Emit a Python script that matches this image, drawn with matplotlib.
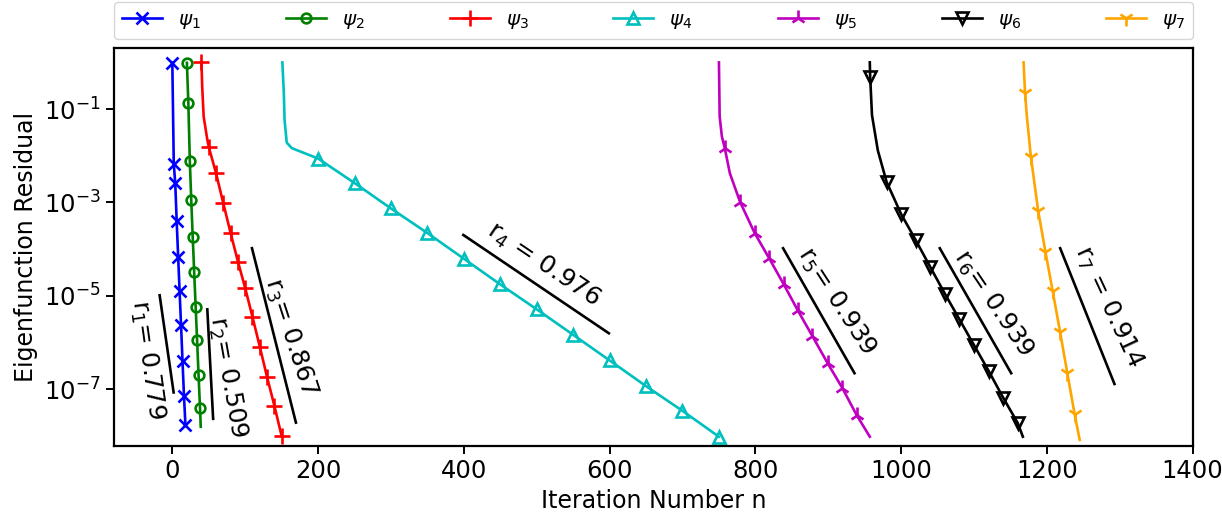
import matplotlib
matplotlib.use("Agg")
import matplotlib.pyplot as plt

# ---------------- data ----------------
labels = [r"$\psi_1$", r"$\psi_2$", r"$\psi_3$", r"$\psi_4$", r"$\psi_5$", r"$\psi_6$", r"$\psi_7$"]
colors = ["blue", "green", "red", "c", "m", "black", "orange"]
markers = ["x", "o", "+", "^", "2", "v", "1"]
msizes = [8, 7, 11, 8.5, 11.5, 8.5, 11.5]

psi1_n = [0, 2, 4, 6, 8, 10, 12, 14, 16, 18]
psi1_r = [0.98, 6.6e-3, 2.6e-3, 3.9e-4, 6.9e-5, 1.23e-5, 2.3e-6, 3.9e-7, 7.1e-8, 1.7e-8]
psi1_mk = [0, 1, 2, 3, 4, 5, 6, 7, 8, 9]

psi2_n = [20, 22, 24, 26, 28, 30, 32, 34, 36, 38, 39]
psi2_r = [0.98, 0.132, 7.8e-3, 1.1e-3, 1.8e-4, 3.2e-5, 5.8e-6, 1.1e-6, 2.0e-7, 3.9e-8, 1.55e-8]
psi2_mk = [0, 1, 2, 3, 4, 5, 6, 7, 8, 9]

psi3_n = [40, 41, 43, 48, 50, 60, 70, 80, 90, 100, 110, 120, 130, 140, 150]
psi3_r = [1.0, 0.30, 0.069, 0.022, 0.0155, 4.2e-3, 9.5e-4, 2.2e-4, 5.4e-5, 1.45e-5,
          3.5e-6, 8.1e-7, 1.8e-7, 4.4e-8, 9.8e-9]
psi3_mk = [0, 4, 5, 6, 7, 8, 9, 10, 11, 12, 13, 14]

psi4_n = [151, 153, 154, 157, 164, 200, 250, 300, 350, 400, 450, 500, 550, 600, 650, 700, 750]
psi4_r = [1.0, 0.22, 0.058, 0.019, 0.0145, 8.7e-3, 2.6e-3, 7.4e-4, 2.2e-4, 6.2e-5, 1.74e-5,
          5.1e-6, 1.45e-6, 4.1e-7, 1.15e-7, 3.4e-8, 9.5e-9]
psi4_mk = [5, 6, 7, 8, 9, 10, 11, 12, 13, 14, 15, 16]

psi5_n = [750, 751, 754, 758, 765, 779, 799, 819, 839, 858, 878, 899, 919, 939, 957]
psi5_r = [1.0, 0.069, 0.026, 0.0145, 4.2e-3, 1.02e-3, 2.2e-4, 6.3e-5, 1.74e-5, 4.9e-6,
          1.38e-6, 3.6e-7, 1.07e-7, 2.75e-8, 9.5e-9]
psi5_mk = [3, 5, 6, 7, 8, 9, 10, 11, 12, 13]

psi6_n = [957, 957.5, 960, 968, 980, 1000, 1020, 1040, 1060, 1080, 1100, 1120, 1140, 1160, 1167]
psi6_r = [1.0, 0.49, 0.074, 0.013, 2.75e-3, 5.6e-4, 1.55e-4, 4.1e-5, 1.1e-5, 3.1e-6,
          8.7e-7, 2.45e-7, 6.5e-8, 1.86e-8, 9.5e-9]
psi6_mk = [1, 4, 5, 6, 7, 8, 9, 10, 11, 12, 13]

psi7_n = [1168, 1170, 1172.5, 1178, 1188, 1198, 1208, 1218, 1228, 1238, 1245]
psi7_r = [1.0, 0.22, 0.069, 9.5e-3, 6.6e-4, 8.7e-5, 1.23e-5, 1.7e-6, 2.2e-7, 2.9e-8, 8.1e-9]
psi7_mk = [1, 3, 4, 5, 6, 7, 8, 9]

series_n = [psi1_n, psi2_n, psi3_n, psi4_n, psi5_n, psi6_n, psi7_n]
series_r = [psi1_r, psi2_r, psi3_r, psi4_r, psi5_r, psi6_r, psi7_r]
series_mk = [psi1_mk, psi2_mk, psi3_mk, psi4_mk, psi5_mk, psi6_mk, psi7_mk]

# convergence-rate reference lines: start n, end n, start residual, rate
rate_values = [0.779, 0.509, 0.867, 0.976, 0.939, 0.939, 0.914]
rate_n0 = [-17.4, 48, 109.3, 399.3, 838, 1053, 1218.2]
rate_n1 = [1.8, 56, 169.6, 599, 936, 1151, 1292.7]
rate_r0 = [1.02e-5, 5.1e-6, 1.04e-4, 2.0e-4, 1.04e-4, 1.04e-4, 1.04e-4]
rate_texts = [r"r$_1$= 0.779", r"r$_2$= 0.509", r"r$_3$= 0.867", r"r$_4$ = 0.976",
              r"r$_5$= 0.939", r"r$_6$= 0.939", r"r$_7$ = 0.914"]
text_x = [-34.7, 75.8, 161.8, 509, 911.2, 1125.8, 1284.9]
text_y = [4.2e-7, 1.8e-7, 1.3e-6, 4.6e-5, 7.4e-6, 6.9e-6, 5.8e-6]
text_rot = [-82, -80, -72, -34, -57, -56, -65]

# ---------------- figure ----------------
fig = plt.figure(figsize=(12.22, 5.23), dpi=100)
ax = fig.add_axes([0.0933, 0.1472, 0.8827, 0.7604])

for n, r, mk, c, m, ms, lab in zip(series_n, series_r, series_mk, colors, markers, msizes, labels):
    ax.plot(n, r, color=c, marker=m, markevery=mk, markersize=ms, markeredgewidth=1.9,
            markerfacecolor="none", linewidth=1.9, label=lab)

for rv, n0, n1, r0 in zip(rate_values, rate_n0, rate_n1, rate_r0):
    ax.plot([n0, n1], [r0, r0 * rv ** (n1 - n0)], color="black", linewidth=1.9)

for t, x, y, rot in zip(rate_texts, text_x, text_y, text_rot):
    ax.text(x, y, t, rotation=rot, ha="center", va="center", fontsize=18,
            rotation_mode="anchor")

ax.set_yscale("log")
ax.set_xlim(-80, 1400)
ax.set_ylim(6.0e-9, 2.0)
ax.set_yticks([1e-1, 1e-3, 1e-5, 1e-7])
ax.yaxis.set_minor_locator(matplotlib.ticker.NullLocator())
ax.tick_params(labelsize=17.5, width=1.4, length=6)
for s in ax.spines.values():
    s.set_linewidth(1.6)
ax.set_xlabel("Iteration Number n", fontsize=17)
ax.set_ylabel("Eigenfunction Residual", fontsize=17)

ax.legend(bbox_to_anchor=(0.0, 1.023, 1.0, 0.102), loc="lower left", ncol=7,
          mode="expand", borderaxespad=0.0, fontsize=14.4)

fig.savefig("out.png", dpi=100)
